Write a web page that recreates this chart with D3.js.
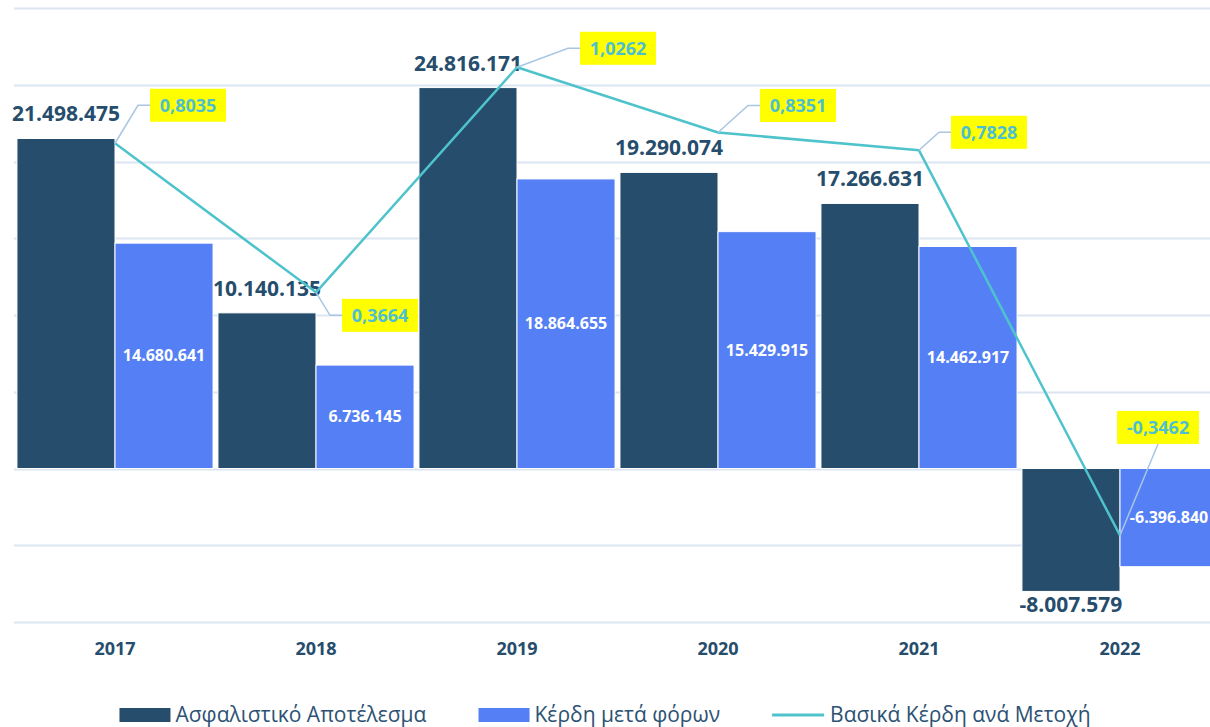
<!DOCTYPE html>
<html>
<head>
<meta charset="utf-8">
<script src="https://cdn.jsdelivr.net/npm/d3@7/dist/d3.min.js"></script>
<style>
  html, body { margin: 0; padding: 0; background: #fff; }
  svg { display: block; font-family: "Open Sans", "Noto Sans", sans-serif; }
</style>
</head>
<body>
<div id="chart"></div>
<script>
// data
var years = ["2017", "2018", "2019", "2020", "2021", "2022"];
var insuranceResult = [21498475, 10140135, 24816171, 19290074, 17266631, -8007579];
var profitAfterTax = [14680641, 6736145, 18864655, 15429915, 14462917, -6396840];
var eps = [0.8035, 0.3664, 1.0262, 0.8351, 0.7828, -0.3462];
var seriesNames = ["Ασφαλιστικό Αποτέλεσμα", "Κέρδη μετά φόρων", "Βασικά Κέρδη ανά Μετοχή"];

// callout placement for the eps labels (box centre relative to point)
var calloutOffset = [[73, -38], [64, 23], [101, -19], [80, -27], [70, -18], [38, -108]];

var W = 1210, H = 727;
var dark = "#264d6c", light = "#5580f5", lineColor = "#4fc3cc";
var gridColor = "#dce6f2", connColor = "#a9c6e2";

var svg = d3.select("#chart").append("svg")
    .attr("width", W).attr("height", H);

var x = d3.scaleBand().domain(years).range([14.5, 1220.5]).paddingInner(0).paddingOuter(0);
var xSub = d3.scaleBand().domain([0, 1]).range([0, x.bandwidth()]).paddingOuter(0.025);
var y = d3.scaleLinear().domain([-10e6, 30e6]).range([622, 8]);
var y2 = d3.scaleLinear().domain([-0.6, 1.2]).range([622, 8]);

var fmtInt = function(v) {
  var s = d3.format(",d")(Math.abs(v)).replace(/,/g, ".");
  return (v < 0 ? "-" : "") + s;
};
var fmtDec = function(v) { return d3.format(".4f")(v).replace(".", ",").replace("−", "-"); };

// grid
svg.append("g").selectAll("line")
  .data(y.ticks(8))
  .enter().append("line")
    .attr("x1", 14).attr("x2", W)
    .attr("y1", function(d) { return Math.round(y(d)) + 0.5; })
    .attr("y2", function(d) { return Math.round(y(d)) + 0.5; })
    .attr("stroke", gridColor)
    .attr("stroke-width", 2);

// bars
var rows = years.map(function(yr, i) {
  return { year: yr, vals: [insuranceResult[i], profitAfterTax[i]] };
});

var groups = svg.append("g").selectAll("g")
  .data(rows)
  .enter().append("g")
    .attr("transform", function(d) { return "translate(" + x(d.year) + ",0)"; });

groups.selectAll("rect")
  .data(function(d) { return d.vals; })
  .enter().append("rect")
    .attr("x", function(d, i) { return xSub(i); })
    .attr("width", xSub.bandwidth())
    .attr("y", function(d) { return y(Math.max(0, d)); })
    .attr("height", function(d) { return Math.abs(y(d) - y(0)); })
    .attr("fill", function(d, i) { return i === 0 ? dark : light; })
    .attr("stroke", "#fff")
    .attr("stroke-width", 1);

// labels for the dark bars (outside)
groups.append("text")
    .attr("x", xSub(0) + xSub.bandwidth() / 2)
    .attr("y", function(d) {
      var v = d.vals[0];
      return v >= 0 ? y(v) - 17 : y(v) + 21;
    })
    .attr("text-anchor", "middle")
    .attr("font-size", 21)
    .attr("font-weight", "bold")
    .attr("fill", dark)
    .text(function(d) { return fmtInt(d.vals[0]); });

// labels for the light bars (inside, centred)
groups.append("text")
    .attr("x", xSub(1) + xSub.bandwidth() / 2)
    .attr("y", function(d) { return (y(d.vals[1]) + y(0)) / 2; })
    .attr("dy", "0.35em")
    .attr("text-anchor", "middle")
    .attr("font-size", 16)
    .attr("font-weight", "bold")
    .attr("fill", "#fff")
    .text(function(d) { return fmtInt(d.vals[1]); });

// eps line
var cx = function(i) { return x(years[i]) + x.bandwidth() / 2; };
var line = d3.line()
    .x(function(d, i) { return cx(i); })
    .y(function(d) { return y2(d); });

svg.append("path")
    .datum(eps)
    .attr("d", line)
    .attr("fill", "none")
    .attr("stroke", lineColor)
    .attr("stroke-width", 2.5)
    .attr("stroke-linejoin", "round");

// callouts
var boxW = 76, boxH = 33;
var callouts = svg.append("g").selectAll("g")
  .data(eps)
  .enter().append("g");

callouts.each(function(d, i) {
  var g = d3.select(this);
  var px = cx(i), py = y2(d);
  var bx = px + calloutOffset[i][0], by = py + calloutOffset[i][1];
  var label = fmtDec(d);
  var w = label.length > 6 ? 82 : boxW;
  var pts;
  if (Math.abs(calloutOffset[i][1]) > 80) {
    pts = [[px, py], [bx, by + boxH / 2]];
  } else {
    pts = [[px, py], [bx - w / 2 - 12, by], [bx - w / 2, by]];
  }
  g.append("path")
      .attr("d", d3.line()(pts))
      .attr("fill", "none")
      .attr("stroke", connColor)
      .attr("stroke-width", 1.5);
  g.append("rect")
      .attr("x", bx - w / 2).attr("y", by - boxH / 2)
      .attr("width", w).attr("height", boxH)
      .attr("fill", "#ffff00");
  g.append("text")
      .attr("x", bx).attr("y", by)
      .attr("dy", "0.35em")
      .attr("text-anchor", "middle")
      .attr("font-size", 18)
      .attr("font-weight", "bold")
      .attr("fill", "#4dbfd0")
      .text(label);
});

// x axis labels
svg.append("g").selectAll("text")
  .data(years)
  .enter().append("text")
    .attr("x", function(d) { return x(d) + x.bandwidth() / 2; })
    .attr("y", 655)
    .attr("text-anchor", "middle")
    .attr("font-size", 18)
    .attr("font-weight", "bold")
    .attr("fill", dark)
    .text(function(d) { return d; });

// legend
var legend = svg.append("g");
var items = legend.selectAll("g")
  .data(seriesNames)
  .enter().append("g");

items.each(function(d, i) {
  var g = d3.select(this);
  if (i < 2) {
    g.append("rect")
        .attr("x", 0).attr("y", -14)
        .attr("width", 51).attr("height", 14)
        .attr("fill", i === 0 ? dark : light);
  } else {
    g.append("line")
        .attr("x1", 0).attr("x2", 52)
        .attr("y1", -7).attr("y2", -7)
        .attr("stroke", lineColor)
        .attr("stroke-width", 3);
  }
  g.append("text")
      .attr("x", i < 2 ? 56 : 58)
      .attr("y", 0)
      .attr("font-size", 21)
      .attr("fill", "#2c5273")
      .text(d);
});

var widths = [];
items.each(function() { widths.push(this.getBBox().width); });
var gap = 52;
var total = d3.sum(widths) + gap * (widths.length - 1);
var start = (W - total) / 2;
items.attr("transform", function(d, i) {
  var off = start + d3.sum(widths.slice(0, i)) + gap * i;
  return "translate(" + off + ",722)";
});
</script>
</body>
</html>
